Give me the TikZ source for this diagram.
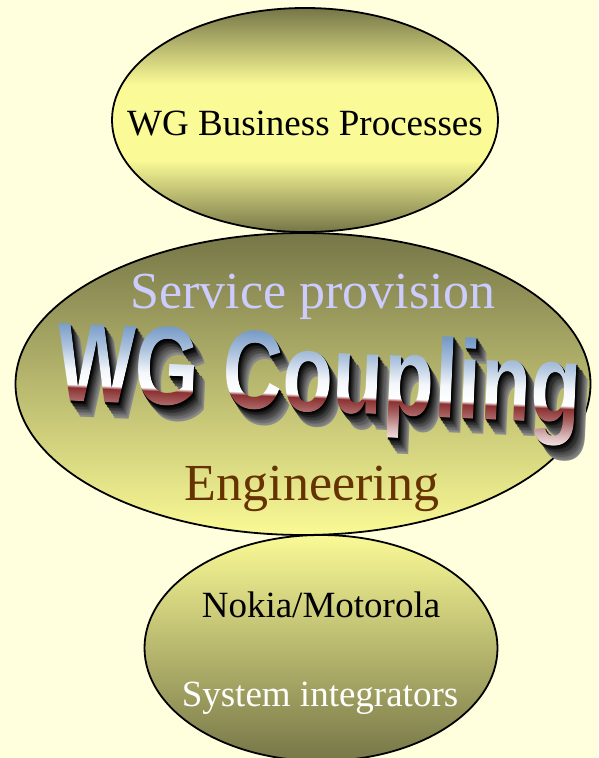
\documentclass[tikz,border=0pt]{standalone}
\usepackage{fontspec}
\setmainfont{Liberation Serif}
\newfontfamily\artfont{Liberation Sans}
\usetikzlibrary{shapes.geometric,fadings}

\definecolor{paper}{RGB}{255,255,221}
\definecolor{olivedark}{RGB}{118,118,72}
\definecolor{paleyellow}{RGB}{250,250,150}
\definecolor{servblue}{RGB}{204,204,255}
\definecolor{engbrown}{RGB}{102,51,0}
\definecolor{steelblue}{RGB}{112,150,196}
\definecolor{chromered}{RGB}{140,48,48}

% dark rim, broad bright middle
\pgfdeclareverticalshading{pillow}{100bp}{
  color(0bp)=(olivedark); color(25bp)=(olivedark);
  color(41bp)=(paleyellow); color(58bp)=(paleyellow);
  color(75bp)=(olivedark); color(100bp)=(olivedark)}

% chrome look of the word art, bottom (0bp) to top (100bp)
\pgfdeclareverticalshading{chrome}{100bp}{
  color(0bp)=(pink!30!white); color(25bp)=(pink!30!white);
  color(31bp)=(chromered!35!white); color(38bp)=(chromered!75!white);
  color(43.5bp)=(chromered); color(45bp)=(white);
  color(52bp)=(steelblue!8!white); color(62bp)=(steelblue!55!white);
  color(75bp)=(steelblue); color(100bp)=(steelblue)}

% the letters of the word art as a mask, baseline at its centre
\begin{tikzfadingfrompicture}[name=wgfade]
  \path[use as bounding box] (-300pt,-90pt) rectangle (300pt,90pt);
  \node[font=\artfont\bfseries\fontsize{83}{90}\selectfont, text=transparent!0,
        anchor=base, inner sep=0pt] at (0pt,0pt) {\scalebox{1}[1.35]{WG Coupling}};
\end{tikzfadingfrompicture}

\begin{document}
\begin{tikzpicture}[x=1pt, y=-1pt,
    bubble/.style={ellipse, draw=black, line width=1.8pt, inner sep=0pt},
    label/.style={anchor=base, inner sep=0pt},
    art/.style={font=\artfont\bfseries\fontsize{83}{90}\selectfont, anchor=base, inner sep=0pt}]

  % page and background
  \useasboundingbox (0,0) rectangle (598,758);
  \fill[paper] (0,0) rectangle (598,758);

  % the three ellipses
  \node[bubble, minimum width=386pt, minimum height=224pt, shading=pillow] (bp) at (305,120) {};
  \node[bubble, minimum width=575pt, minimum height=302pt,
        top color=olivedark, bottom color=paleyellow] (cpl) at (303,384) {};
  \node[bubble, minimum width=353pt, minimum height=226pt,
        top color=paleyellow, bottom color=olivedark] (nm) at (321,648) {};

  % texts
  \node[label, font=\fontsize{37}{40}\selectfont] (bptext) at (305,135) {WG Business Processes};
  \node[label, font=\fontsize{52}{56}\selectfont, text=servblue] (servtext) at (313,308) {Service provision};
  \node[label, font=\fontsize{52}{56}\selectfont, text=engbrown] (engtext) at (312,500) {Engineering};
  \node[label, font=\fontsize{37}{40}\selectfont] (nmtext) at (321,617) {Nokia/Motorola};
  \node[label, font=\fontsize{37}{40}\selectfont, text=white] (sitext) at (320,706) {System integrators};

  % word art: extruded body, then chrome face
  \begin{scope}[transform canvas={shift={(318,412)}, rotate=-2.5}]
    \foreach \k in {10,...,1}{
      \pgfmathtruncatemacro\dk{100-(\k-1)*6}
      \node[art, text=black!\dk!white] at (\k*1.1,\k*1.5) {\scalebox{1}[1.35]{WG Coupling}};
    }
    \shade[shading=chrome, path fading=wgfade, fit fading=false] (-300,-82) rectangle (300,26);
  \end{scope}

\end{tikzpicture}
\end{document}
